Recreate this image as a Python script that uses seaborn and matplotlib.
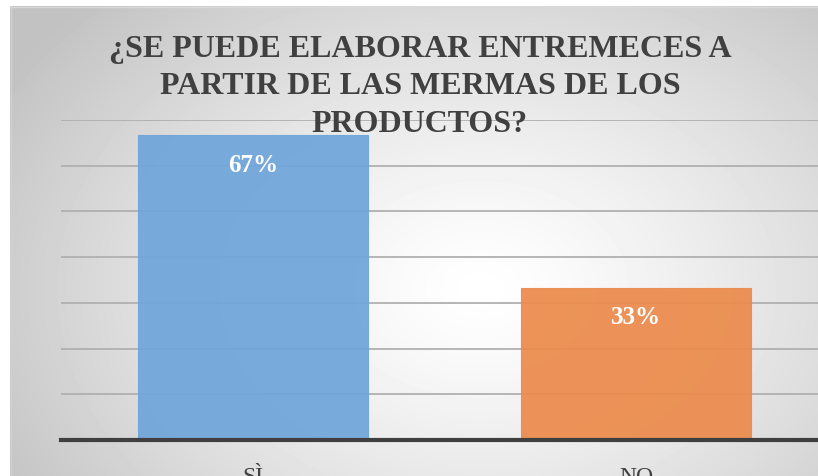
import matplotlib
matplotlib.use("Agg")
import matplotlib.pyplot as plt
import numpy as np
import pandas as pd
import seaborn as sns

categories = ["SÌ", "NO"]
values = [0.6667, 0.3333]
labels = ["67%", "33%"]
colors = ["#6FA6DA", "#EC8B4C"]
title = "¿SE PUEDE ELABORAR ENTREMECES A\nPARTIR DE LAS MERMAS DE LOS\nPRODUCTOS?"

sns.set_theme(style="white")
plt.rcParams["font.family"] = ["Liberation Serif", "DejaVu Serif"]

W, H = 818, 477
fig = plt.figure(figsize=(W / 100, H / 100), dpi=100)
fig.patch.set_facecolor("white")

# radial gray background of the chart area
bg = fig.add_axes([0, 0, 1, 1])
bg.set_xlim(0, W)
bg.set_ylim(H, 0)
bg.axis("off")
yy, xx = np.mgrid[7:H, 10:W]
d = np.sqrt(((xx - 480) / 520.0) ** 2 + ((yy - 290) / 380.0) ** 2)
shade = np.clip(1.0 - 0.22 * d ** 1.3, 0.76, 1.0)
bg.imshow(shade, cmap="gray", vmin=0, vmax=1, extent=(10, W, H, 7),
          aspect="auto", interpolation="bilinear")
bg.plot([10, W], [7.5, 7.5], color="#d9d9d9", lw=1)
bg.plot([10.5, 10.5], [7, H], color="#d0d0d0", lw=1)

left, right = 61, 828
zero_y, top_y = 441, 121
ax = fig.add_axes([left / W, (H - zero_y) / H, (right - left) / W, (zero_y - top_y) / H])
ax.patch.set_alpha(0)

df = pd.DataFrame({"cat": categories, "val": values})
sns.barplot(data=df, x="cat", y="val", hue="cat", palette=colors, width=0.6,
            saturation=1, legend=False, ax=ax, alpha=0.93, linewidth=0.8,
            zorder=1)
for bar, c in zip(ax.patches, colors):
    bar.set_edgecolor(c)

ax.set_ylim(0, 0.7)
ax.set_xlim(-0.5, 1.5)
ax.set_yticks(np.arange(0.1, 0.71, 0.1))
ax.yaxis.grid(True, color="#b0b0b0", linewidth=1.3, zorder=0)
ax.set_axisbelow(True)
ax.set_yticklabels([])
ax.tick_params(axis="y", length=0)
ax.tick_params(axis="x", length=0, pad=19, labelsize=17, labelcolor="#404040")
for s in ["left", "right", "top"]:
    ax.spines[s].set_visible(False)
ax.spines["bottom"].set_color("#3f3f3f")
ax.spines["bottom"].set_linewidth(3)
ax.set_xlabel("")
ax.set_ylabel("")

for bar, lab in zip(ax.patches, labels):
    ax.annotate(lab, (bar.get_x() + bar.get_width() / 2, bar.get_height()),
                xytext=(0, -29), textcoords="offset pixels", ha="center",
                va="center", color="white", fontsize=18, fontweight="bold")

fig.text(420 / W, 1 - 87 / H, title, ha="center", va="center", fontsize=23,
         fontweight="bold", color="#404040", linespacing=1.38)

fig.savefig("out.png", dpi=100)
